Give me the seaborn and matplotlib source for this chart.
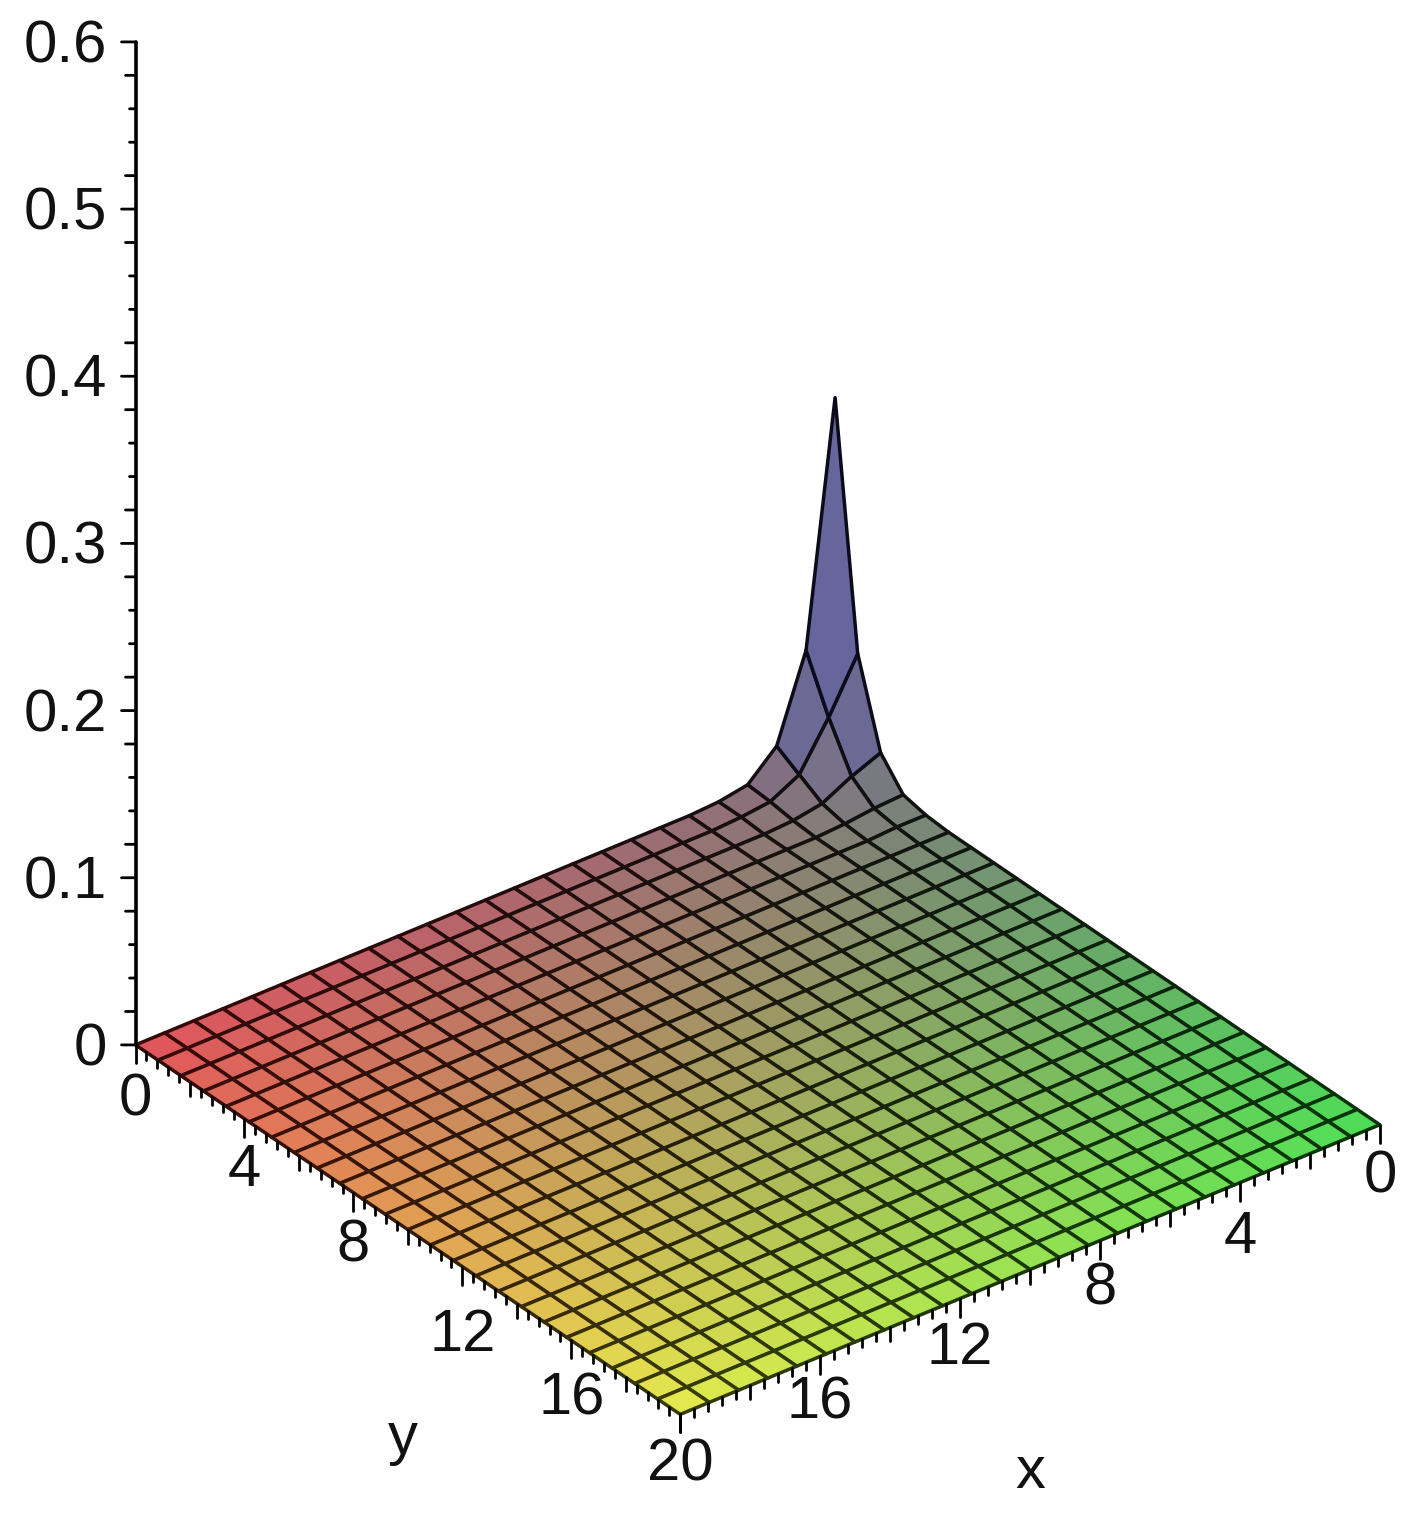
import numpy as np
import matplotlib
matplotlib.use("Agg")
import matplotlib.pyplot as plt
from mpl_toolkits.mplot3d import proj3d
import seaborn as sns

# surface values: 25 x 25 mesh, flat except near the x=0, y=0 corner
mesh_x = [0, 0.83, 1.67, 2.5, 3.33, 4.17, 5, 5.83, 6.67, 7.5, 8.33, 9.17, 10,
          10.83, 11.67, 12.5, 13.33, 14.17, 15, 15.83, 16.67, 17.5, 18.33, 19.17, 20]
mesh_y = mesh_x
z_peak = [
    [0.214, 0.070, 0.020, 0.004, 0.001],
    [0.070, 0.039, 0.013, 0.003, 0.001],
    [0.020, 0.012, 0.004, 0.001, 0.000],
    [0.004, 0.003, 0.001, 0.000, 0.000],
    [0.001, 0.001, 0.000, 0.000, 0.000],
]

xy_ticks = [0, 4, 8, 12, 16, 20]
z_ticks = [0, 0.1, 0.2, 0.3, 0.4, 0.5, 0.6]
z_labels = ["0", "0.1", "0.2", "0.3", "0.4", "0.5", "0.6"]

# colours at the four base corners
c_back = "#82767d"
c_left = "#e4565a"
c_right = "#4ee055"
c_front = "#e8ee4c"
c_peak = "#66669c"

n = len(mesh_x)
z = np.zeros((n, n))
z[:5, :5] = z_peak


def face_colours():
    near = sns.blend_palette([c_back, c_right], n)   # x = 0 edge
    far = sns.blend_palette([c_left, c_front], n)    # x = 20 edge
    colours = np.zeros((n, n, 4))
    colours[..., 3] = 1
    for j in range(n):
        colours[:, j, :3] = sns.blend_palette([near[j], far[j]], n)
    # the spike goes blue-grey with height
    peak = np.array(matplotlib.colors.to_rgb(c_peak))
    mix = np.clip(z / 0.09, 0, 1)[..., None]
    colours[..., :3] = colours[..., :3] * (1 - mix) + peak * mix
    return colours


def draw_ticks(ax):
    ax.plot([20, 20], [0, 0], [0, 0.6], color="black", lw=2.6)
    # z axis ticks point left on screen
    for i in range(31):
        t = i * 0.02
        size = 14 if i % 5 == 0 else (10 if i % 5 in (1, 4) else 6)
        ax.plot([20, 20 + 0.0178 * size], [0, -0.0139 * size], [t, t], color="black", lw=2)
    # x and y ticks hang straight down
    for i in range(51):
        t = i * 0.4
        size = 18 if i % 10 == 0 else (14 if i % 5 == 0 else 8)
        drop = size / 1672
        ax.plot([20, 20], [t, t], [0, -drop], color="black", lw=2)
        ax.plot([t, t], [20, 20], [0, -drop], color="black", lw=2)


def label_at(ax, x, y, z_pos, text, **style):
    # project to the 2d view so the text sits where the 3d point lands
    px, py, _ = proj3d.proj_transform(x, y, z_pos, ax.get_proj())
    ax.text2D(px, py, text, transform=ax.transData, ha="center", va="center", **style)


def draw_labels(ax, fig):
    style = dict(fontsize=43, color="#111111", family="Liberation Sans")
    y_drop = [0.033, 0.031, 0.032, 0.041, 0.035, 0.030]
    x_drop = [0.031, 0.033, 0.029, 0.030, 0.028]
    for t, d in zip(xy_ticks, y_drop):
        label_at(ax, 20, t, -d, str(t), **style)
    for t, d in zip(xy_ticks[:-1], x_drop):
        label_at(ax, t, 20, -d, str(t), **style)
    for t, label in zip(z_ticks, z_labels):
        fig.text(107 / 1407, 1 - (1050 - t * 1672) / 1515, label, ha="right", va="center", **style)
    fig.text(403 / 1407, 1 - 1438 / 1515, "y", ha="center", va="center", **style)
    fig.text(1030 / 1407, 1 - 1473 / 1515, "x", ha="center", va="center", **style)


def main():
    sns.set_theme(style="white")
    fig = plt.figure(figsize=(14.07, 15.15), dpi=100)
    ax = fig.add_axes([-218 / 1407, -44 / 1515, 1900 / 1407, 1900 / 1515], projection="3d")
    ax.set_proj_type("ortho")
    ax.view_init(elev=32, azim=52)
    ax.set_xlim(0, 20, view_margin=0)
    ax.set_ylim(0, 20, view_margin=0)
    ax.set_zlim(0, 0.6, view_margin=0)
    ax.set_box_aspect((888, 885, 1183), zoom=0.8805)
    ax.set_axis_off()

    xx, yy = np.meshgrid(mesh_x, mesh_y, indexing="ij")
    colours = face_colours()
    surf = ax.plot_surface(xx, yy, z, rstride=1, cstride=1, facecolors=colours,
                           shade=False, linewidth=2.5, antialiased=True)
    # mesh lines are a very dark tint of the cell they border
    dark = colours[:-1, :-1].reshape(-1, 4).copy()
    dark[:, :3] = dark[:, :3] ** 2 * 0.28
    surf.set_edgecolor(dark)

    draw_ticks(ax)
    draw_labels(ax, fig)
    fig.savefig("out.png", dpi=100, facecolor="white")
    plt.close(fig)


if __name__ == "__main__":
    main()
